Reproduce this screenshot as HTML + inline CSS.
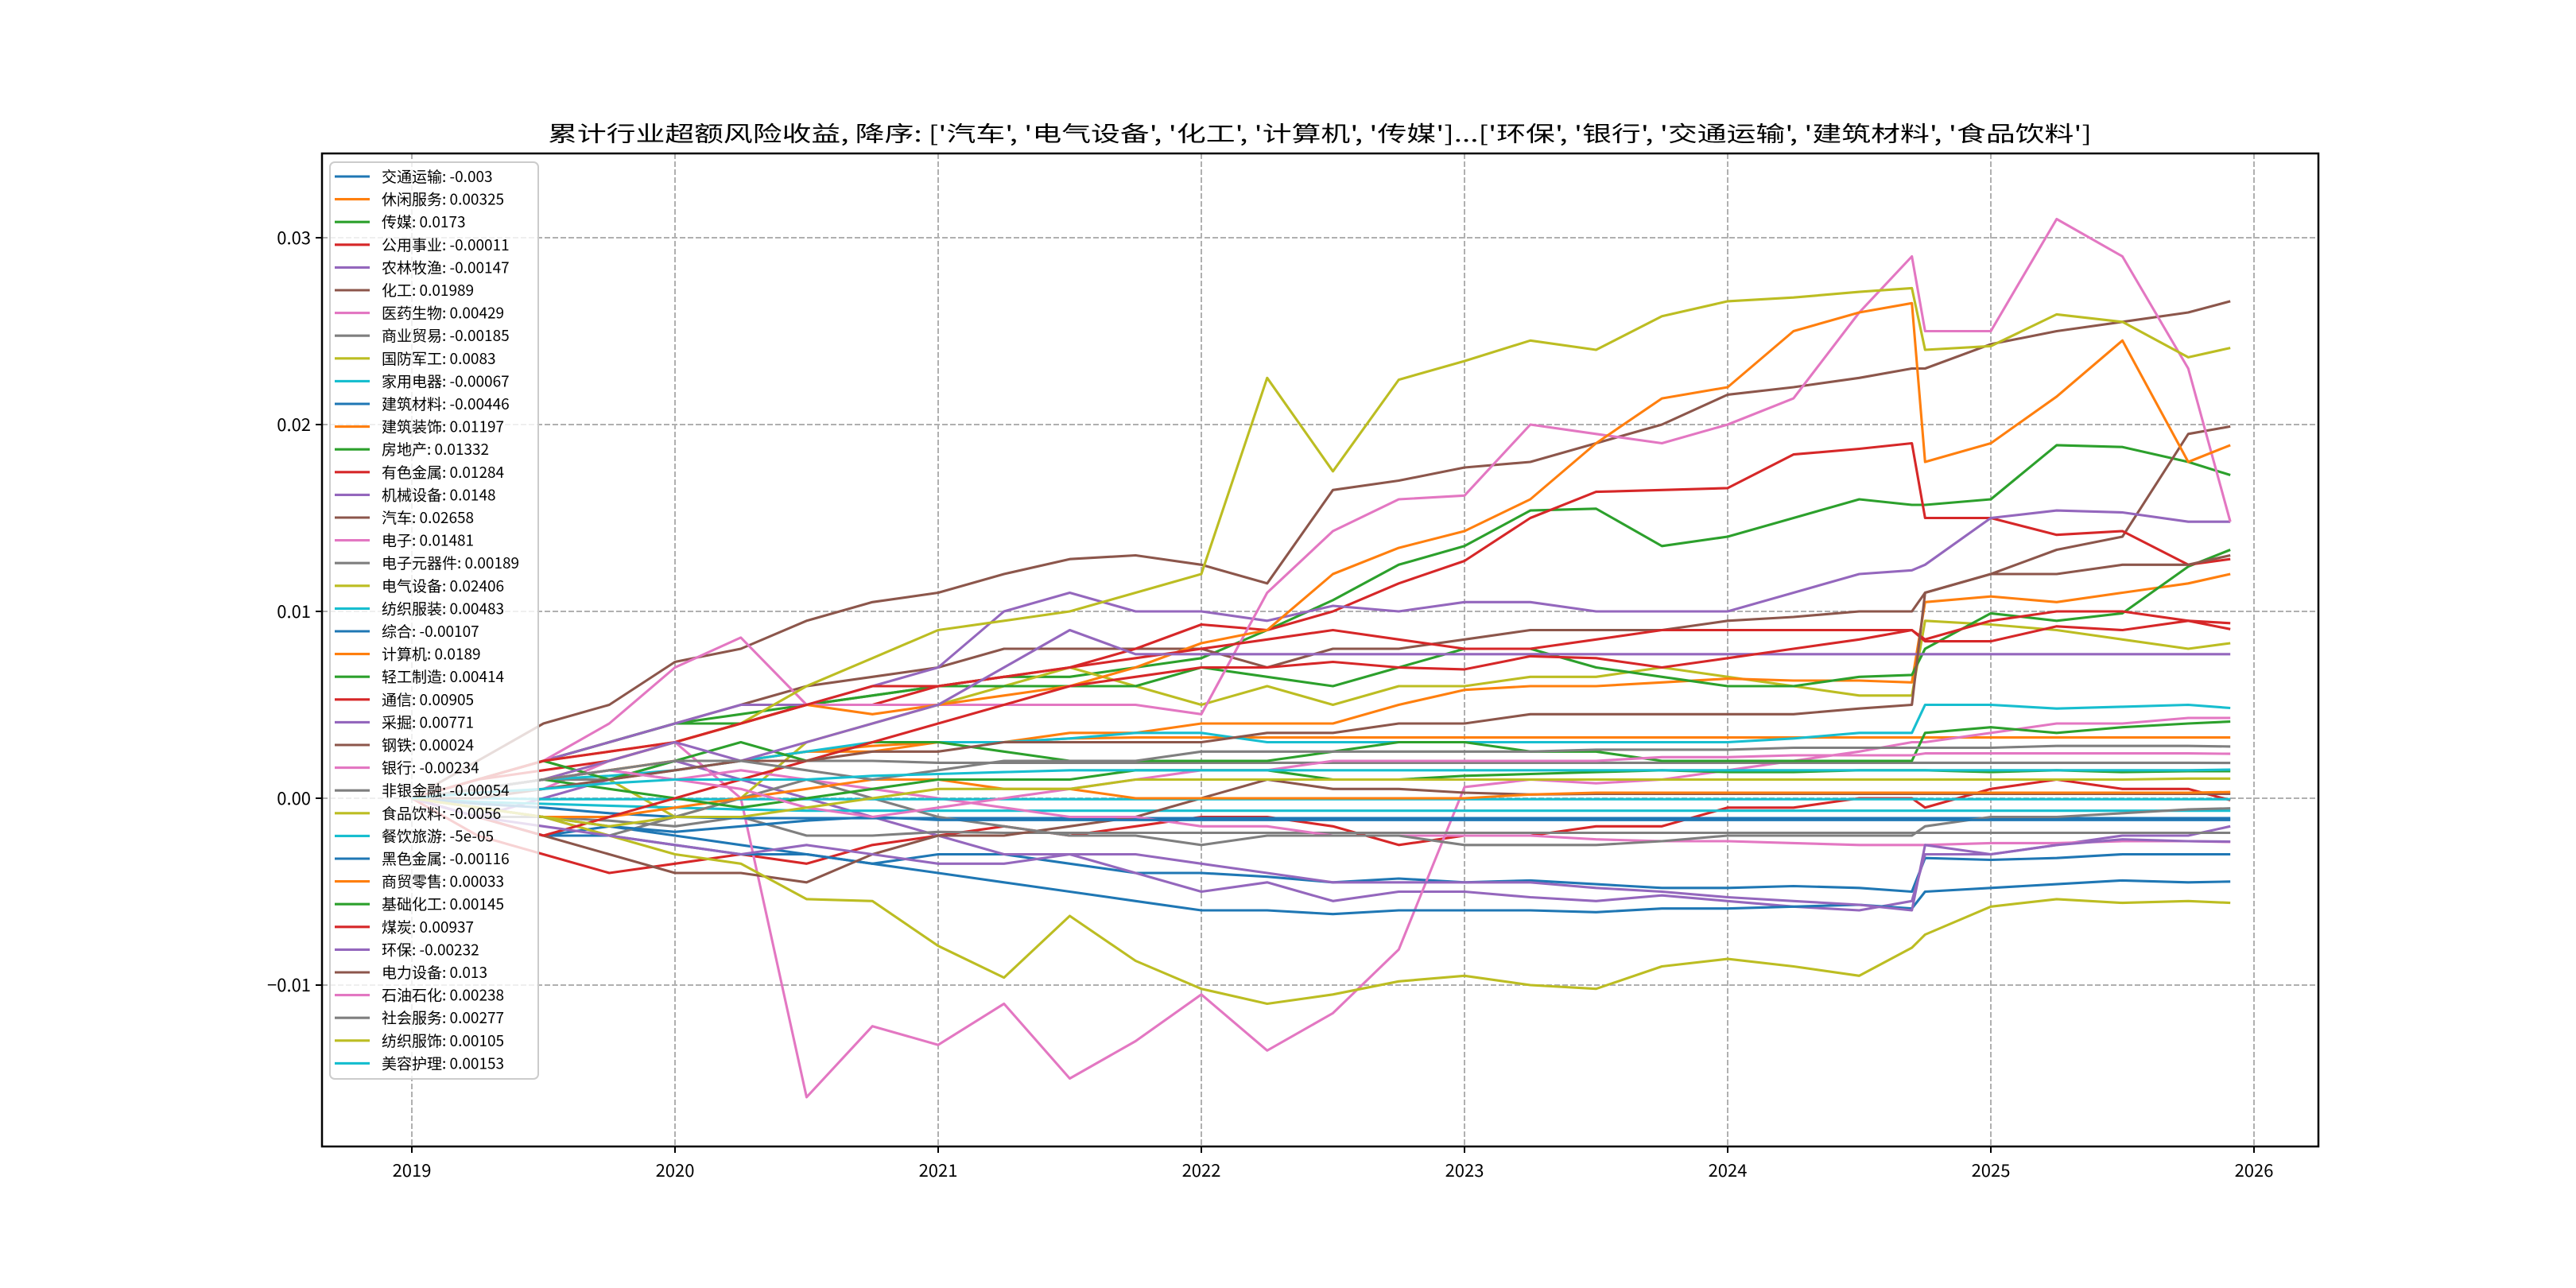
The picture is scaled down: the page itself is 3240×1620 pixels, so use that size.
<!DOCTYPE html>
<html><head><meta charset="utf-8"><title>累计行业超额风险收益</title>
<style>html,body{margin:0;padding:0;background:#fff}svg{display:block}text{font-family:"WenQuanYi Zen Hei","Noto Sans CJK SC","Liberation Sans",sans-serif}</style>
</head><body>
<svg id="chart" xmlns="http://www.w3.org/2000/svg" width="3240" height="1620" viewBox="0 0 3240 1620">
<rect x="0" y="0" width="3240" height="1620" fill="#fff"/>
<text x="1660" y="178" font-size="27" text-anchor="middle" textLength="1942" lengthAdjust="spacingAndGlyphs">累计行业超额风险收益,  降序: ['汽车', '电气设备', '化工', '计算机', '传媒']...['环保', '银行', '交通运输', '建筑材料', '食品饮料']</text>
<g id="grid"></g>
<g id="plot"></g>
<rect x="405" y="193" width="2511" height="1249" fill="none" stroke="#000" stroke-width="2.5"/>
<g id="axes"></g>
<g id="legend"></g>
</svg>
<script>
const years = [2019.0,2019.25,2019.5,2019.75,2020.0,2020.25,2020.5,2020.75,2021.0,2021.25,2021.5,2021.75,2022.0,2022.25,2022.5,2022.75,2023.0,2023.25,2023.5,2023.75,2024.0,2024.25,2024.5,2024.7,2024.75,2025.0,2025.25,2025.5,2025.75,2025.91];
const names = ['交通运输','休闲服务','传媒','公用事业','农林牧渔','化工','医药生物','商业贸易','国防军工','家用电器','建筑材料','建筑装饰','房地产','有色金属','机械设备','汽车','电子','电子元器件','电气设备','纺织服装','综合','计算机','轻工制造','通信','采掘','钢铁','银行','非银金融','食品饮料','餐饮旅游','黑色金属','商贸零售','基础化工','煤炭','环保','电力设备','石油石化','社会服务','纺织服饰','美容护理'];
const finalLabels = ['-0.003','0.00325','0.0173','-0.00011','-0.00147','0.01989','0.00429','-0.00185','0.0083','-0.00067','-0.00446','0.01197','0.01332','0.01284','0.0148','0.02658','0.01481','0.00189','0.02406','0.00483','-0.00107','0.0189','0.00414','0.00905','0.00771','0.00024','-0.00234','-0.00054','-0.0056','-5e-05','-0.00116','0.00033','0.00145','0.00937','-0.00232','0.013','0.00238','0.00277','0.00105','0.00153'];
// values in thousandths (×0.001)
const s0 = [0,-1,-2,-1.5,-2,-2.5,-3,-3.5,-3,-3,-3.5,-4,-4,-4.2,-4.5,-4.3,-4.5,-4.4,-4.6,-4.8,-4.8,-4.7,-4.8,-5,-3.2,-3.3,-3.2,-3,-3,-3];
const s1 = [0,0.5,1,1.5,2,2,2.5,2.8,3,3,3.2,3.25,3.25,3.25,3.25,3.25,3.25,3.25,3.25,3.25,3.25,3.25,3.25,3.25,3.25,3.25,3.25,3.25,3.25,3.25];
const s2 = [0,1,2,3,4,4.5,5,5.5,6,6.5,6.5,7,7.5,9,10.6,12.5,13.5,15.4,15.5,13.5,14,15,16,15.7,15.7,16,18.9,18.8,18,17.3];
const s3 = [0,-2,-3,-4,-3.5,-3,-3.5,-2.5,-2,-1.5,-2,-1.5,-1,-1,-1.5,-2.5,-2,-2,-1.5,-1.5,-0.5,-0.5,0,0,-0.5,0.5,1,0.5,0.5,-0.1];
const s4 = [0,-1,0,1,2,1,0,-1,-2,-3,-3,-4,-5,-4.5,-5.5,-5,-5,-5.3,-5.5,-5.2,-5.5,-5.8,-6,-5.5,-3,-3,-2.5,-2,-2,-1.5];
const s5 = [0,1,2,3,4,5,6,6.5,7,8,8,8,8,7,8,8,8.5,9,9,9,9.5,9.7,10,10,11,12,13.3,14,19.5,19.9];
const s6 = [0,0,0.5,2,3,0,-16,-12.2,-13.2,-11,-15,-13,-10.5,-13.5,-11.5,-8.1,0.6,1,0.8,1,1.5,2,2.5,3,3,3.5,4,4,4.3,4.3];
const s7 = [0,-0.5,-1,-1.2,-1.5,-1,-2,-2,-1.8,-1.85,-1.85,-1.85,-1.85,-1.85,-1.85,-1.85,-1.85,-1.85,-1.85,-1.85,-1.85,-1.85,-1.85,-1.85,-1.85,-1.85,-1.85,-1.85,-1.85,-1.85];
const s8 = [0,1,2,1,-1,0,3,4,5,6,7,6,5,6,5,6,6,6.5,6.5,7,6.5,6,5.5,5.5,9.5,9.3,9,8.5,8,8.3];
const s9 = [0,-0.2,-0.3,-0.4,-0.5,-0.6,-0.67,-0.67,-0.67,-0.67,-0.67,-0.67,-0.67,-0.67,-0.67,-0.67,-0.67,-0.67,-0.67,-0.67,-0.67,-0.67,-0.67,-0.67,-0.67,-0.67,-0.67,-0.67,-0.67,-0.67];
const s10 = [0,-1,-2,-2,-2.5,-3,-3,-3.5,-4,-4.5,-5,-5.5,-6,-6,-6.2,-6,-6,-6,-6.1,-5.9,-5.9,-5.8,-5.7,-5.9,-5,-4.8,-4.6,-4.4,-4.5,-4.46];
const s11 = [0,0.5,1,1.5,2,2,2.5,2.5,3,3,3.5,3.5,4,4,4,5,5.8,6,6,6.2,6.4,6.3,6.3,6.2,10.5,10.8,10.5,11,11.5,12];
const s12 = [0,1,2,3,4,4,5,5.5,6,6,6,6,7,6.5,6,7,8,8,7,6.5,6,6,6.5,6.6,8,9.9,9.5,9.9,12.4,13.3];
const s13 = [0,1,1.5,2,3,4,5,5,6,6.5,7,8,9.3,9,10,11.5,12.7,15,16.4,16.5,16.6,18.4,18.7,19,15,15,14.1,14.3,12.5,12.8];
const s14 = [0,1,2,3,4,5,5,6,7,10,11,10,10,9.5,10.3,10,10.5,10.5,10,10,10,11,12,12.2,12.5,15,15.4,15.3,14.8,14.8];
const s15 = [0,2,4,5,7.3,8,9.5,10.5,11,12,12.8,13,12.5,11.5,16.5,17,17.7,18,19,20,21.6,22,22.5,23,23,24.3,25,25.5,26,26.6];
const s16 = [0,1,2,4,7,8.6,5,5,5,5,5,5,4.5,11,14.3,16,16.2,20,19.5,19,20,21.4,26,29,25,25,31,29,23,14.8];
const s17 = [0,0.5,1,1,1.5,2,2,2,1.9,1.9,1.9,1.9,1.9,1.9,1.9,1.9,1.9,1.9,1.9,1.9,1.9,1.9,1.9,1.9,1.9,1.9,1.9,1.9,1.9,1.89];
const s18 = [0,0.5,1,2,3,4,6,7.5,9,9.5,10,11,12,22.5,17.5,22.4,23.4,24.5,24,25.8,26.6,26.8,27.1,27.3,24,24.2,25.9,25.5,23.6,24.1];
const s19 = [0,0.5,1,1.2,1.5,2,2.5,3,3,3,3.2,3.5,3.5,3,3,3,3,3,3,3,3,3.2,3.5,3.5,5,5,4.8,4.9,5,4.83];
const s20 = [0,-0.3,-0.5,-0.8,-1,-1.07,-1.07,-1.07,-1.07,-1.07,-1.07,-1.07,-1.07,-1.07,-1.07,-1.07,-1.07,-1.07,-1.07,-1.07,-1.07,-1.07,-1.07,-1.07,-1.07,-1.07,-1.07,-1.07,-1.07,-1.07];
const s21 = [0,1,2,2.5,3,4,5,4.5,5,5.5,6,7,8.3,9,12,13.4,14.3,16,19,21.4,22,25,26,26.5,18,19,21.5,24.5,18,18.9];
const s22 = [0,1,2,1,2,3,2,3,3,2.5,2,2,2,2,2.5,3,3,2.5,2.5,2,2,2,2,2,3.5,3.8,3.5,3.8,4,4.1];
const s23 = [0,1,2,2.5,3,4,5,6,6,6.5,7,7.5,8,8.5,9,8.5,8,8,8.5,9,9,9,9,9,8.5,9.5,10,10,9.5,9.05];
const s24 = [0,0.5,1,2,3,2,3,4,5,7,9,7.71,7.71,7.71,7.71,7.71,7.71,7.71,7.71,7.71,7.71,7.71,7.71,7.71,7.71,7.71,7.71,7.71,7.71,7.71];
const s25 = [0,-1,-2,-3,-4,-4,-4.5,-3,-2,-2,-1.5,-1,0,1,0.5,0.5,0.3,0.2,0.24,0.24,0.24,0.24,0.24,0.24,0.24,0.24,0.24,0.24,0.24,0.24];
const s26 = [0,0.5,1,1.5,1,1.5,1,0.5,0,-0.5,-1,-1,-1.5,-1.5,-2,-2,-2,-2,-2.2,-2.3,-2.3,-2.4,-2.5,-2.5,-2.5,-2.4,-2.4,-2.3,-2.3,-2.34];
const s27 = [0,-1,-1,-2,-1,0,1,0,-1,-1.5,-2,-2,-2.5,-2,-2,-2,-2.5,-2.5,-2.5,-2.3,-2,-2,-2,-2,-1.5,-1,-1,-0.8,-0.6,-0.54];
const s28 = [0,-0.5,-1,-2,-3,-3.5,-5.4,-5.5,-7.9,-9.6,-6.3,-8.7,-10.2,-11,-10.5,-9.8,-9.5,-10,-10.2,-9,-8.6,-9,-9.5,-8,-7.3,-5.8,-5.4,-5.6,-5.5,-5.6];
const s29 = [0,0,-0.05,-0.05,-0.05,-0.05,-0.05,-0.05,-0.05,-0.05,-0.05,-0.05,-0.05,-0.05,-0.05,-0.05,-0.05,-0.05,-0.05,-0.05,-0.05,-0.05,-0.05,-0.05,-0.05,-0.05,-0.05,-0.05,-0.05,-0.05];
const s30 = [0,-0.5,-1,-1.5,-1.8,-1.5,-1.2,-1,-1.16,-1.16,-1.16,-1.16,-1.16,-1.16,-1.16,-1.16,-1.16,-1.16,-1.16,-1.16,-1.16,-1.16,-1.16,-1.16,-1.16,-1.16,-1.16,-1.16,-1.16,-1.16];
const s31 = [0,-0.5,-1,-1,-0.5,0,0.5,1,1,0.5,0.5,0,0,0,0,0,0,0.2,0.3,0.3,0.3,0.3,0.3,0.3,0.3,0.3,0.3,0.3,0.3,0.33];
const s32 = [0,0.5,1,0.5,0,-0.5,0,0.5,1,1,1,1.5,1.5,1.5,1,1,1.2,1.3,1.4,1.5,1.4,1.4,1.5,1.5,1.5,1.4,1.5,1.4,1.45,1.45];
const s33 = [0,-1,-2,-1,0,1,2,3,4,5,6,6.5,7,7,7.3,7,6.9,7.6,7.5,7,7.5,8,8.5,9,8.4,8.4,9.2,9,9.5,9.37];
const s34 = [0,-1,-1.5,-2,-2.5,-3,-2.5,-3,-3.5,-3.5,-3,-3,-3.5,-4,-4.5,-4.5,-4.5,-4.5,-4.8,-5,-5.3,-5.5,-5.7,-6,-2.5,-3,-2.5,-2.2,-2.3,-2.32];
const s35 = [0,0,0.5,1,1.5,2,2,2.5,2.5,3,3,3,3,3.5,3.5,4,4,4.5,4.5,4.5,4.5,4.5,4.8,5,11,12,12,12.5,12.5,13];
const s36 = [0,0.5,1,1.5,1,0.5,-0.5,-1,-0.5,0,0.5,1,1.5,1.5,2,2,2,2,2,2.2,2.2,2.3,2.3,2.3,2.4,2.4,2.4,2.4,2.4,2.38];
const s37 = [0,0.5,1,1.5,2,2,1.5,1,1.5,2,2,2,2.5,2.5,2.5,2.5,2.5,2.5,2.6,2.6,2.6,2.7,2.7,2.7,2.7,2.7,2.8,2.8,2.8,2.77];
const s38 = [0,-0.5,-1,-1.5,-1,-1,-0.5,0,0.5,0.5,0.5,1,1,1,1,1,1,1,1,1,1,1,1,1,1,1,1,1,1.05,1.05];
const s39 = [0,0.3,0.5,0.8,1,1,1,1.2,1.3,1.4,1.5,1.5,1.5,1.5,1.5,1.5,1.5,1.5,1.5,1.5,1.5,1.5,1.5,1.5,1.5,1.5,1.5,1.5,1.5,1.53];
const seriesValues = [s0,s1,s2,s3,s4,s5,s6,s7,s8,s9,s10,s11,s12,s13,s14,s15,s16,s17,s18,s19,s20,s21,s22,s23,s24,s25,s26,s27,s28,s29,s30,s31,s32,s33,s34,s35,s36,s37,s38,s39];
const yTickValues = [-10,0,10,20,30];
const yTickLabels = ['\u22120.01','0.00','0.01','0.02','0.03'];
const xTickValues = [2019,2020,2021,2022,2023,2024,2025,2026];
const xTickLabels = ['2019','2020','2021','2022','2023','2024','2025','2026'];

const palette = ['#1f77b4','#ff7f0e','#2ca02c','#d62728','#9467bd','#8c564b','#e377c2','#7f7f7f','#bcbd22','#17becf'];
const NS = 'http://www.w3.org/2000/svg';
const L = 405, R = 2916, T = 193, B = 1442;
function xScale(yr){ return 518 + (yr - 2019) * 331; }
function yScale(v){ return 1004 - v * 23.5; }
function mk(tag, attrs){ const e = document.createElementNS(NS, tag); for (const k in attrs) e.setAttribute(k, attrs[k]); return e; }

const grid = document.getElementById('grid');
const axes = document.getElementById('axes');
xTickValues.forEach((v, i) => {
  const x = xScale(v);
  const g = mk('line', {x1:x, x2:x, y1:T, y2:B, stroke:'#b0b0b0', 'stroke-width':2, 'stroke-dasharray':'7,3'});
  
  
  grid.appendChild(g);
  const t = mk('line', {x1:x, x2:x, y1:B, y2:B+8, stroke:'#000', 'stroke-width':2});
  
  
  axes.appendChild(t);
  const lb = mk('text', {x:x, y:B+38, 'font-size':22, 'text-anchor':'middle'});
  lb.textContent = xTickLabels[i];
  
  
  axes.appendChild(lb);
});
yTickValues.forEach((v, i) => {
  const y = yScale(v);
  const g = mk('line', {x1:L, x2:R, y1:y, y2:y, stroke:'#b0b0b0', 'stroke-width':2, 'stroke-dasharray':'7,3'});
  
  
  grid.appendChild(g);
  const t = mk('line', {x1:L-8, x2:L, y1:y, y2:y, stroke:'#000', 'stroke-width':2});
  
  
  axes.appendChild(t);
  const lb = mk('text', {x:L-14, y:y+8, 'font-size':22, 'text-anchor':'end'});
  lb.textContent = yTickLabels[i];
  
  
  axes.appendChild(lb);
});

const plot = document.getElementById('plot');
seriesValues.forEach((vals, i) => {
  const pts = vals.map((v, j) => xScale(years[j]).toFixed(1) + ',' + yScale(v).toFixed(1)).join(' ');
  const pl = mk('polyline', {points:pts, fill:'none', stroke:palette[i % 10], 'stroke-width':3.1, 'stroke-linejoin':'round'});
  
  
  plot.appendChild(pl);
});

const legend = document.getElementById('legend');
const box = mk('rect', {x:415, y:204, width:262, height:1153, rx:6, fill:'rgba(255,255,255,0.8)', stroke:'#cccccc', 'stroke-width':2});


legend.appendChild(box);
names.forEach((n, i) => {
  const cy = 222 + i * 28.6;
  const h = mk('line', {x1:421, x2:465, y1:cy, y2:cy, stroke:palette[i % 10], 'stroke-width':3.1});
  
  
  legend.appendChild(h);
  const t = mk('text', {x:480, y:cy+7, 'font-size':19});
  t.textContent = n + ': ' + finalLabels[i];
  
  
  legend.appendChild(t);
});
</script>
</body></html>
